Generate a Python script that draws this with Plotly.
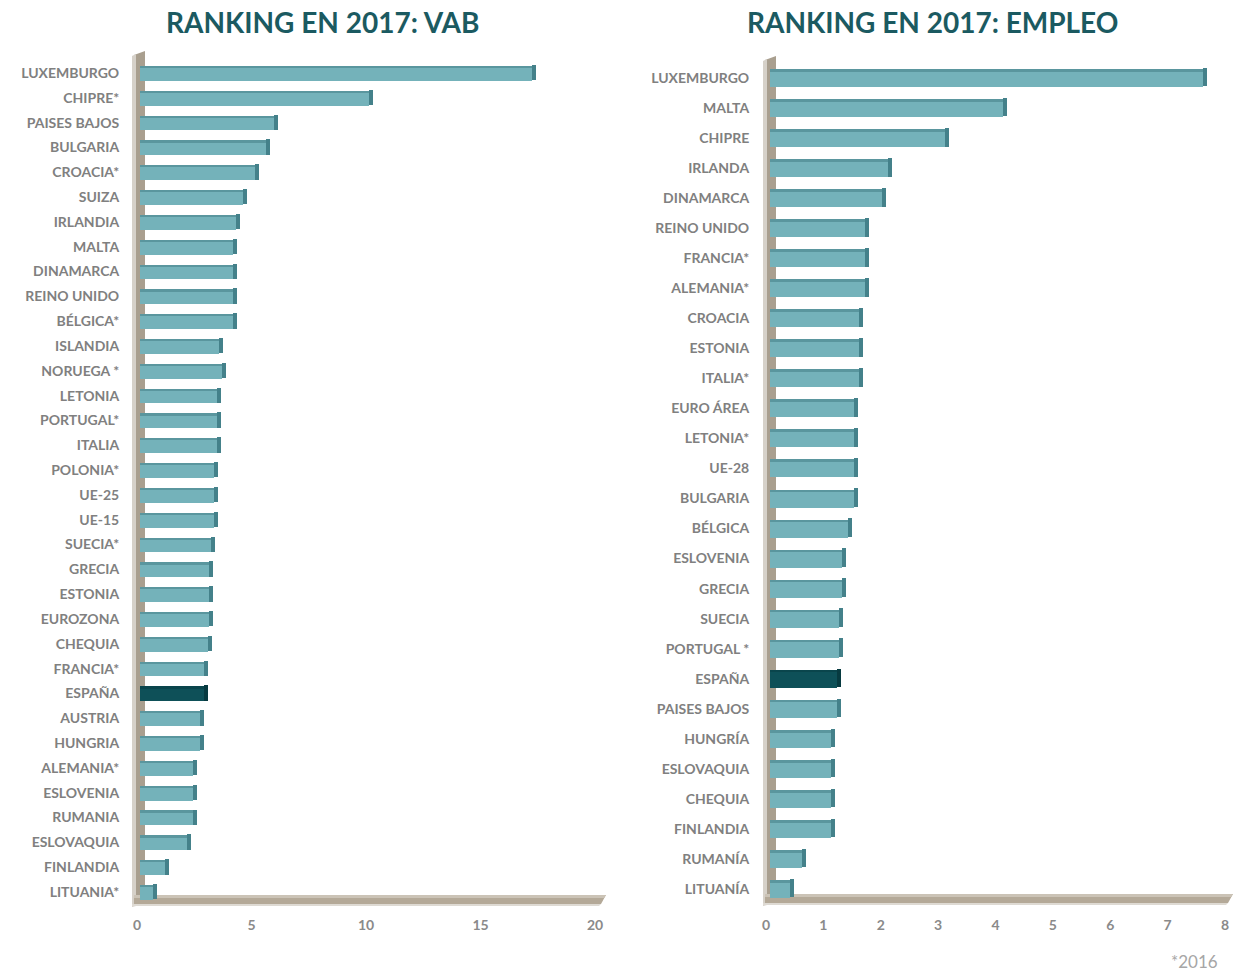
import plotly.graph_objects as go

# ---- data -------------------------------------------------------------
vab_paises = [
    "LUXEMBURGO", "CHIPRE*", "PAISES BAJOS", "BULGARIA", "CROACIA*", "SUIZA",
    "IRLANDIA", "MALTA", "DINAMARCA", "REINO UNIDO", "BÉLGICA*", "ISLANDIA",
    "NORUEGA *", "LETONIA", "PORTUGAL*", "ITALIA", "POLONIA*", "UE-25", "UE-15",
    "SUECIA*", "GRECIA", "ESTONIA", "EUROZONA", "CHEQUIA", "FRANCIA*", "ESPAÑA",
    "AUSTRIA", "HUNGRIA", "ALEMANIA*", "ESLOVENIA", "RUMANIA", "ESLOVAQUIA",
    "FINLANDIA", "LITUANIA*",
]
vab_valores = [
    17.1, 10.0, 5.85, 5.5, 5.0, 4.5,
    4.2, 4.05, 4.05, 4.05, 4.05, 3.45,
    3.6, 3.35, 3.35, 3.35, 3.25, 3.25, 3.25,
    3.1, 3.0, 3.0, 3.0, 2.95, 2.8, 2.8,
    2.6, 2.6, 2.3, 2.3, 2.3, 2.05,
    1.1, 0.55,
]

empleo_paises = [
    "LUXEMBURGO", "MALTA", "CHIPRE", "IRLANDA", "DINAMARCA", "REINO UNIDO",
    "FRANCIA*", "ALEMANIA*", "CROACIA", "ESTONIA", "ITALIA*", "EURO ÁREA",
    "LETONIA*", "UE-28", "BULGARIA", "BÉLGICA", "ESLOVENIA", "GRECIA", "SUECIA",
    "PORTUGAL *", "ESPAÑA", "PAISES BAJOS", "HUNGRÍA", "ESLOVAQUIA", "CHEQUIA",
    "FINLANDIA", "RUMANÍA", "LITUANÍA",
]
empleo_valores = [
    7.55, 4.06, 3.05, 2.05, 1.95, 1.65,
    1.65, 1.65, 1.55, 1.55, 1.55, 1.46,
    1.46, 1.46, 1.46, 1.36, 1.25, 1.25, 1.2,
    1.2, 1.17, 1.17, 1.06, 1.06, 1.06,
    1.06, 0.56, 0.35,
]

vab_ticks = [0, 5, 10, 15, 20]
empleo_ticks = [0, 1, 2, 3, 4, 5, 6, 7, 8]

DESTACADO = "ESPAÑA"

# ---- styling ----------------------------------------------------------
W, H = 1233, 973
TEAL, TEAL_TOP, TEAL_SIDE = "#74b2ba", "#5a969e", "#44818a"
DARK, DARK_TOP, DARK_SIDE = "#0e5058", "#0a454c", "#073a40"
TITLE_C = "#1b5a61"
LABEL_C = "#808080"
FONT = "Lato"


def fx(p):
    return p / W


def fy(p):
    return 1 - p / H


def colores(paises, normal, destacado):
    return [destacado if p == DESTACADO else normal for p in paises]


fig = go.Figure()


def panel(paises, valores, xa, ya, px_por_unidad):
    ref_x = "x" if xa == "xaxis" else "x2"
    ref_y = "y" if ya == "yaxis" else "y2"
    fondo = 4.0 / px_por_unidad
    # front face
    fig.add_trace(go.Bar(
        x=valores, y=paises, orientation="h", xaxis=ref_x, yaxis=ref_y,
        width=0.6, offset=-0.3,
        marker=dict(color=colores(paises, TEAL, DARK), line=dict(width=0)),
        hoverinfo="x+y", showlegend=False,
    ))
    # upper bevel of each bar
    fig.add_trace(go.Bar(
        x=valores, y=paises, orientation="h", xaxis=ref_x, yaxis=ref_y,
        width=0.09, offset=0.21,
        marker=dict(color=colores(paises, TEAL_TOP, DARK_TOP), line=dict(width=0)),
        hoverinfo="skip", showlegend=False,
    ))
    # right-hand side face of each bar
    fig.add_trace(go.Bar(
        x=[fondo] * len(valores), base=valores, y=paises, orientation="h",
        xaxis=ref_x, yaxis=ref_y,
        width=0.62, offset=-0.28,
        marker=dict(color=colores(paises, TEAL_SIDE, DARK_SIDE), line=dict(width=0)),
        hoverinfo="skip", showlegend=False,
    ))


# pixel geometry of the two plot areas
L_X0, L_X1 = 140, 598      # 0 .. 20
R_X0, R_X1 = 770, 1229     # 0 .. 8
L_Y0, L_Y1 = 60.6, 904.4
R_Y0, R_Y1 = 63.0, 904.0

panel(vab_paises, vab_valores, "xaxis", "yaxis", (L_X1 - L_X0) / 20)
panel(empleo_paises, empleo_valores, "xaxis2", "yaxis2", (R_X1 - R_X0) / 8)

tick_font = dict(family=FONT, size=14, color="#8a8a8a", weight="bold")
cat_font = dict(family=FONT, size=14, color=LABEL_C, weight="bold")

common_x = dict(showgrid=False, zeroline=False, showline=False, ticks="outside",
                ticklen=8, tickcolor="rgba(0,0,0,0)", tickfont=tick_font,
                fixedrange=True, automargin=False)
common_y = dict(showgrid=False, zeroline=False, showline=False, ticks="outside",
                ticklen=17, tickcolor="rgba(0,0,0,0)", tickfont=cat_font,
                categoryorder="array", fixedrange=True, automargin=False)

fig.update_layout(
    width=W, height=H,
    margin=dict(l=0, r=0, t=0, b=0, pad=0, autoexpand=False),
    paper_bgcolor="white", plot_bgcolor="rgba(0,0,0,0)",
    barmode="overlay", bargap=0,
    xaxis=dict(domain=[fx(L_X0), fx(L_X1)], range=[0, 20], tickvals=vab_ticks,
               anchor="y", ticklabelshift=-3, **common_x),
    yaxis=dict(domain=[fy(L_Y1), fy(L_Y0)], anchor="x",
               categoryarray=list(reversed(vab_paises)),
               range=[-0.5, len(vab_paises) - 0.5], **common_y),
    xaxis2=dict(domain=[fx(R_X0), fx(R_X1)], range=[0, 8], tickvals=empleo_ticks,
                anchor="y2", ticklabelshift=-4, **common_x),
    yaxis2=dict(domain=[fy(R_Y1), fy(R_Y0)], anchor="x2",
                categoryarray=list(reversed(empleo_paises)),
                range=[-0.5, len(empleo_paises) - 0.5], **common_y),
)


# ---- 3D-style back wall and floor ------------------------------------
def poly(pts):
    return "M " + " L ".join(f"{fx(a):.5f},{fy(b):.5f}" for a, b in pts) + " Z"


def wall_floor(xw0, xw1, y_top, y_floor, x_end):
    shapes = []
    # wall body
    shapes.append(dict(type="path", xref="paper", yref="paper", layer="below",
                       path=poly([(xw0, y_top + 4), (xw1, y_top), (xw1, y_floor),
                                  (xw0, y_floor + 2)]),
                       fillcolor="#a99f8f", line=dict(width=0)))
    # lit left edge of the wall
    shapes.append(dict(type="path", xref="paper", yref="paper", layer="below",
                       path=poly([(xw0 - 2, y_top + 5), (xw0 + 2, y_top + 3),
                                  (xw0 + 2, y_floor + 2), (xw0 - 2, y_floor + 3)]),
                       fillcolor="#d6d1c9", line=dict(width=0)))
    # floor slab
    shapes.append(dict(type="path", xref="paper", yref="paper", layer="below",
                       path=poly([(xw0, y_floor - 9), (x_end + 5, y_floor - 9),
                                  (x_end, y_floor), (xw0, y_floor)]),
                       fillcolor="#b4a998", line=dict(width=0)))
    shapes.append(dict(type="path", xref="paper", yref="paper", layer="below",
                       path=poly([(xw0, y_floor - 9), (x_end + 5, y_floor - 9),
                                  (x_end + 3, y_floor - 6), (xw0, y_floor - 6)]),
                       fillcolor="#cbc3b6", line=dict(width=0)))
    # soft lower edge of the floor
    shapes.append(dict(type="path", xref="paper", yref="paper", layer="below",
                       path=poly([(xw0 - 2, y_floor), (x_end, y_floor),
                                  (x_end - 2, y_floor + 2), (xw0 - 2, y_floor + 2)]),
                       fillcolor="#dedad3", line=dict(width=0)))
    return shapes


shapes = []
shapes += wall_floor(134, 145, 51, 904, 601)
shapes += wall_floor(765, 776, 56, 903, 1228)
fig.update_layout(shapes=shapes)

# ---- titles and note ---------------------------------------------------
title_font = dict(family=FONT, size=28, color=TITLE_C, weight="bold")
fig.add_annotation(text="RANKING EN 2017: VAB", x=fx(322), y=fy(22),
                   xref="paper", yref="paper", showarrow=False,
                   xanchor="center", yanchor="middle", font=title_font)
fig.add_annotation(text="RANKING EN 2017: EMPLEO", x=fx(932), y=fy(22),
                   xref="paper", yref="paper", showarrow=False,
                   xanchor="center", yanchor="middle", font=title_font)
fig.add_annotation(text="*2016", x=fx(1220), y=fy(961),
                   xref="paper", yref="paper", showarrow=False,
                   xanchor="right", yanchor="middle",
                   font=dict(family=FONT, size=17, color="#a6a6a6"))

fig.write_html("out.html")
